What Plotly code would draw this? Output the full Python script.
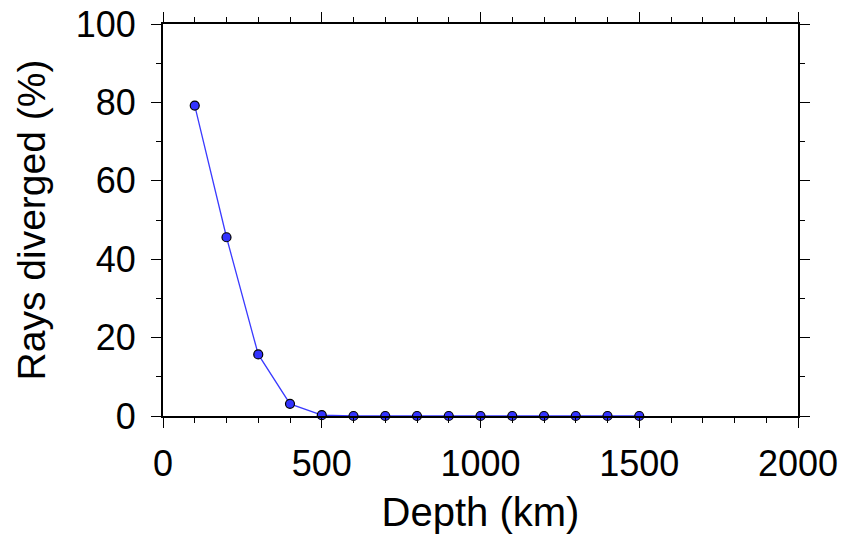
import plotly.graph_objects as go

depth_km = [100, 200, 300, 400, 500, 600, 700, 800, 900, 1000, 1100, 1200, 1300, 1400, 1500]
rays_diverged_pct = [79.2, 45.6, 15.7, 3.1, 0.2, 0, 0, 0, 0, 0, 0, 0, 0, 0, 0]

FONT = "Liberation Sans, Arial, Helvetica, sans-serif"

fig = go.Figure()
fig.add_trace(go.Scatter(
    x=depth_km, y=rays_diverged_pct,
    mode="lines+markers",
    line=dict(color="#3a3aff", width=1.3),
    marker=dict(size=9, color="#3333ff", line=dict(color="black", width=1.2)),
    cliponaxis=False,
))

axis_common = dict(
    showgrid=False, zeroline=False, automargin=False,
    showline=True, linecolor="black", linewidth=2,
    mirror="ticks", ticks="outside", ticklen=10, tickwidth=1.2, tickcolor="black",
    tickfont=dict(family=FONT, size=36, color="black"),
)

fig.update_xaxes(
    range=[0, 2000], tickvals=[0, 500, 1000, 1500, 2000],
    minor=dict(dtick=100, ticks="outside", ticklen=5, tickwidth=1, tickcolor="black"),
    ticklabelstandoff=5,
    title=dict(text="Depth (km)", font=dict(family=FONT, size=40, color="black"), standoff=18),
    **axis_common,
)
fig.update_yaxes(
    range=[0, 100], tickvals=[0, 20, 40, 60, 80, 100],
    minor=dict(dtick=10, ticks="outside", ticklen=5, tickwidth=1, tickcolor="black"),
    ticklabelstandoff=8,
    title=dict(text="Rays diverged (%)", font=dict(family=FONT, size=39, color="black"), standoff=18),
    **axis_common,
)

fig.update_layout(
    width=845, height=534,
    margin=dict(l=163, r=47, t=24, b=118),
    paper_bgcolor="white", plot_bgcolor="white",
    showlegend=False,
)

fig.write_html("out.html")
